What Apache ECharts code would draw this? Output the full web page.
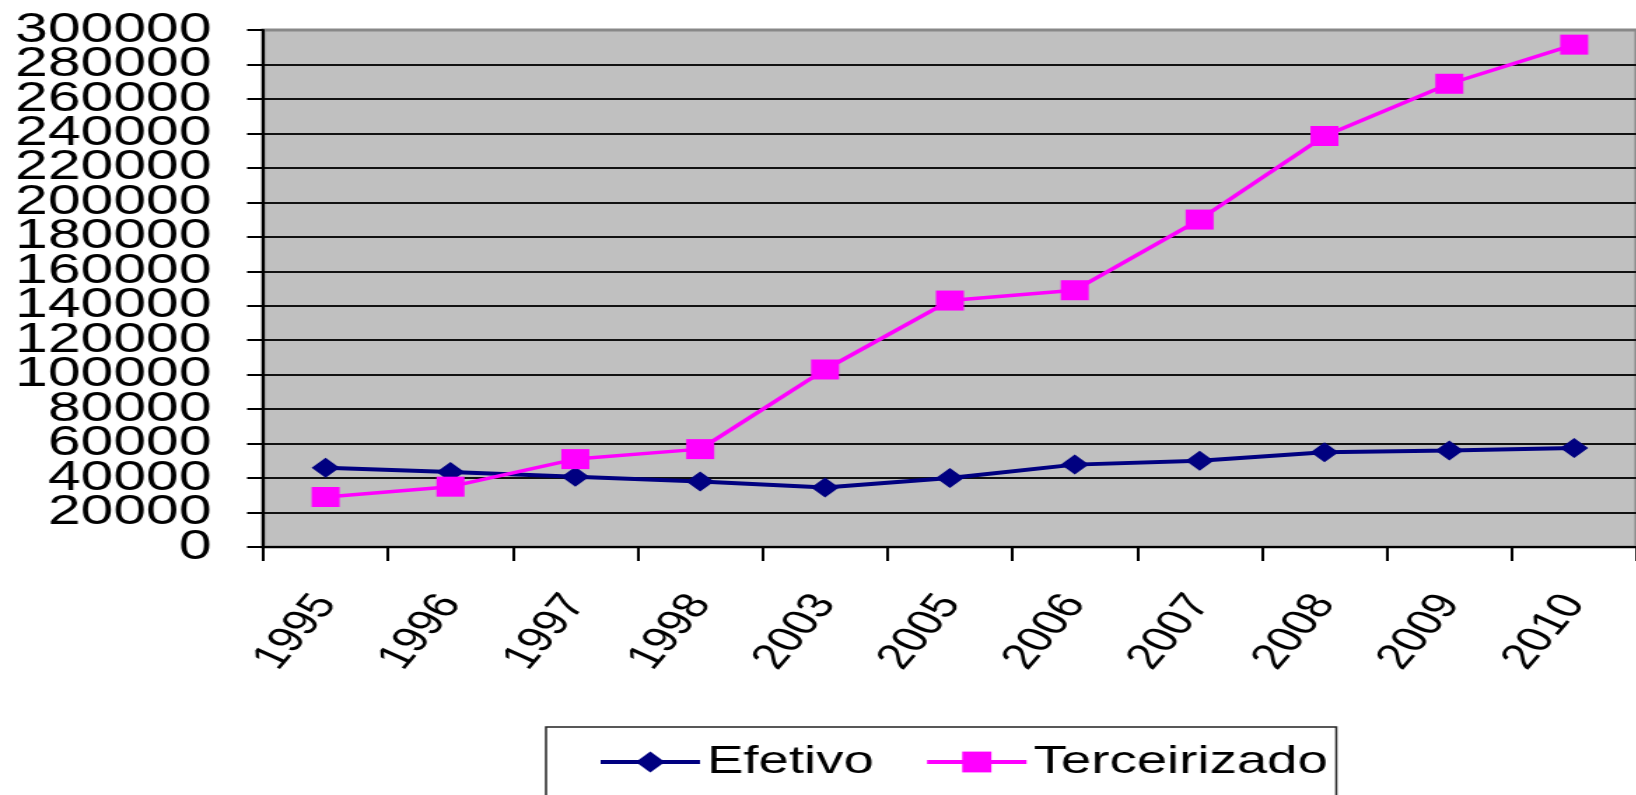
<!DOCTYPE html>
<html>
<head>
<meta charset="utf-8">
<title>Efetivo x Terceirizado</title>
<script src="https://cdn.jsdelivr.net/npm/echarts@6/dist/echarts.min.js"></script>
<style>
  html, body { margin: 0; padding: 0; background: #fff; overflow: hidden; }
  #wrap { width: 1636px; height: 795px; overflow: hidden; position: relative; }
  /* the chart is laid out narrow and widened horizontally, like the original export */
  #chart { width: 1169px; height: 795px; transform: scaleX(1.4); transform-origin: 0 0; }
</style>
</head>
<body>
<div id="wrap"><div id="chart"></div></div>
<script>
const years = ['1995', '1996', '1997', '1998', '2003', '2005', '2006', '2007', '2008', '2009', '2010'];
const efetivo = [46000, 43500, 40700, 38000, 34500, 40000, 47800, 50000, 55000, 56000, 57500];
const terceirizado = [29000, 35000, 51000, 56800, 103000, 143000, 149000, 190000, 238500, 268800, 291500];
const yMin = 0;
const yMax = 300000;
const yStep = 20000;

const FONT = "'Liberation Sans', Arial, sans-serif";

// The tick labels are taller than the gap between gridlines, so the labels
// next to the ends of the scale go on a twin axis to keep all of them shown.
const nearEnd = (v) => v === yMin + yStep || v === yMax - yStep;

const yLabelStyle = {
  margin: 37,
  fontFamily: FONT,
  fontSize: 42,
  color: '#000',
  showMinLabel: true,
  showMaxLabel: true
};

const chart = echarts.init(document.getElementById('chart'), null, { renderer: 'canvas', width: 1169, height: 795 });

chart.setOption({
  animation: false,
  backgroundColor: '#ffffff',
  grid: {
    left: 188,
    top: 30,
    height: 517,
    width: 987,
    show: true,
    backgroundColor: '#c0c0c0',
    borderColor: '#888888',
    borderWidth: 3
  },
  legend: {
    left: 390,
    top: 727,
    orient: 'horizontal',
    padding: [15, 6, 80, 37],
    itemGap: 36,
    itemWidth: 71,
    itemHeight: 26,
    borderColor: '#222222',
    borderWidth: 1.5,
    lineStyle: { width: 4 },
    textStyle: { fontFamily: FONT, fontSize: 39, color: '#000', lineHeight: 40 },
    data: ['Efetivo', 'Terceirizado']
  },
  xAxis: {
    type: 'category',
    data: years,
    boundaryGap: true,
    axisLine: { show: true, lineStyle: { color: '#000', width: 2 } },
    axisTick: { show: true, alignWithLabel: false, length: 14, lineStyle: { color: '#000', width: 2 } },
    axisLabel: {
      rotate: 58,
      margin: 51,
      fontFamily: FONT,
      fontSize: 36,
      color: '#000',
      interval: 0
    },
    splitLine: { show: false }
  },
  yAxis: [
    {
      type: 'value',
      min: yMin,
      max: yMax,
      interval: yStep,
      axisLine: { show: true, lineStyle: { color: '#000', width: 2 } },
      axisTick: { show: true, length: 11.5, lineStyle: { color: '#000', width: 2 } },
      axisLabel: Object.assign({}, yLabelStyle, {
        formatter: (v) => (nearEnd(v) ? '' : String(v))
      }),
      splitLine: { show: true, showMaxLine: false, lineStyle: { color: '#111', width: 2 } }
    },
    {
      type: 'value',
      position: 'left',
      offset: 0,
      min: yMin,
      max: yMax,
      interval: yStep,
      axisLine: { show: false },
      axisTick: { show: false },
      splitLine: { show: false },
      axisLabel: Object.assign({}, yLabelStyle, {
        formatter: (v) => (nearEnd(v) ? String(v) : '')
      })
    }
  ],
  series: [
    {
      name: 'Efetivo',
      type: 'line',
      yAxisIndex: 0,
      data: efetivo,
      symbol: 'diamond',
      symbolSize: 20,
      showAllSymbol: true,
      color: '#000080',
      lineStyle: { color: '#000080', width: 4 },
      itemStyle: { color: '#000080' },
      z: 3
    },
    {
      name: 'Terceirizado',
      type: 'line',
      yAxisIndex: 0,
      data: terceirizado,
      symbol: 'rect',
      symbolSize: 20,
      showAllSymbol: true,
      color: '#ff00ff',
      lineStyle: { color: '#ff00ff', width: 3.5 },
      itemStyle: { color: '#ff00ff' },
      z: 4
    }
  ]
});
</script>
</body>
</html>
